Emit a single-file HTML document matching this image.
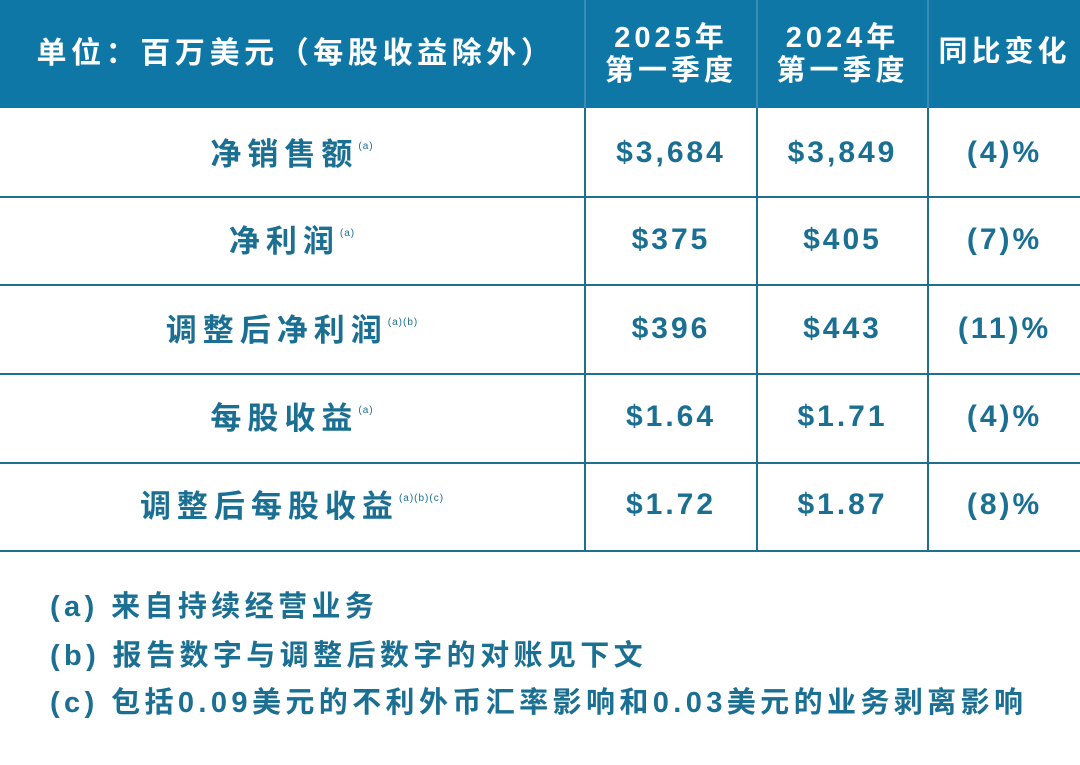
<!DOCTYPE html>
<html><head><meta charset="utf-8"><style>
body{margin:0;width:1080px;height:765px;background:#fff;position:relative;overflow:hidden;font-family:"Liberation Sans","Noto Sans CJK SC",sans-serif;}
.hdr{position:absolute;left:0;top:0;width:1080px;height:108px;background:#0f77a6;}
.t{position:absolute;text-align:center;font-weight:bold;}
.h{color:#fff;font-size:29px;letter-spacing:4px;line-height:33px;}
.c{color:#1a6f92;font-size:30px;letter-spacing:3px;line-height:36px;}
.l{font-size:31px;letter-spacing:6px;}
.v{position:absolute;width:2px;background:#1f6f8f;}
.hl{position:absolute;left:0;width:1080px;height:2px;background:#1f6f8f;}
.vh{position:absolute;width:2px;top:0;height:108px;background:#3d8cb6;}
sup{font-size:10px;font-weight:normal;letter-spacing:1px;vertical-align:16px;}
.fn{position:absolute;left:50px;color:#1a6f92;font-size:29px;font-weight:bold;letter-spacing:4.4px;line-height:34px;}
</style></head><body>
<div class="hdr"></div>
<div class="vh" style="left:584px"></div><div class="vh" style="left:756px"></div><div class="vh" style="left:927px"></div>
<div class="t h" style="left:4px;width:584px;top:37px;font-size:30px;letter-spacing:4.6px">单位：百万美元（每股收益除外）</div>
<div class="t h" style="left:586px;width:170px;top:22px">2025年<br>第一季度</div>
<div class="t h" style="left:758px;width:169px;top:22px">2024年<br>第一季度</div>
<div class="t h" style="left:929px;width:151px;top:36px">同比变化</div>
<div class="hl" style="top:196px"></div><div class="hl" style="top:284px"></div><div class="hl" style="top:373px"></div><div class="hl" style="top:462px"></div><div class="hl" style="top:550px"></div>
<div class="v" style="left:584px;top:108px;height:444px"></div><div class="v" style="left:756px;top:108px;height:444px"></div><div class="v" style="left:927px;top:108px;height:444px"></div>
<div class="t c l" style="left:0;width:584px;top:129px">净销售额<sup>(a)</sup></div>
<div class="t c l" style="left:0;width:584px;top:216px">净利润<sup>(a)</sup></div>
<div class="t c l" style="left:0;width:584px;top:305px">调整后净利润<sup>(a)(b)</sup></div>
<div class="t c l" style="left:0;width:584px;top:393px">每股收益<sup>(a)</sup></div>
<div class="t c l" style="left:0;width:584px;top:481px">调整后每股收益<sup>(a)(b)(c)</sup></div>
<div class="t c" style="left:586px;width:170px;top:135px">$3,684</div>
<div class="t c" style="left:758px;width:169px;top:135px">$3,849</div>
<div class="t c" style="left:929px;width:151px;top:135px">(4)%</div>
<div class="t c" style="left:586px;width:170px;top:222px">$375</div>
<div class="t c" style="left:758px;width:169px;top:222px">$405</div>
<div class="t c" style="left:929px;width:151px;top:222px">(7)%</div>
<div class="t c" style="left:586px;width:170px;top:311px">$396</div>
<div class="t c" style="left:758px;width:169px;top:311px">$443</div>
<div class="t c" style="left:929px;width:151px;top:311px">(11)%</div>
<div class="t c" style="left:586px;width:170px;top:399px">$1.64</div>
<div class="t c" style="left:758px;width:169px;top:399px">$1.71</div>
<div class="t c" style="left:929px;width:151px;top:399px">(4)%</div>
<div class="t c" style="left:586px;width:170px;top:487px">$1.72</div>
<div class="t c" style="left:758px;width:169px;top:487px">$1.87</div>
<div class="t c" style="left:929px;width:151px;top:487px">(8)%</div>
<div class="fn" style="top:590px">(a) 来自持续经营业务</div>
<div class="fn" style="top:639px">(b) 报告数字与调整后数字的对账见下文</div>
<div class="fn" style="top:686px">(c) 包括0.09美元的不利外币汇率影响和0.03美元的业务剥离影响</div>
</body></html>
